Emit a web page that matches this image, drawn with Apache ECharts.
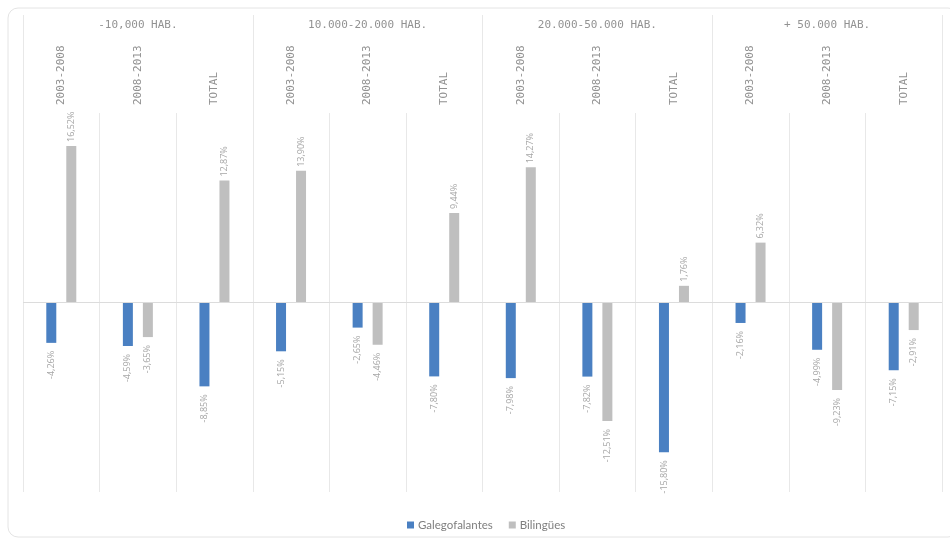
<!DOCTYPE html>
<html lang="es">
<head>
    <meta charset="UTF-8">
    <title>Galegofalantes e bilingües</title>
    <script src="https://cdn.jsdelivr.net/npm/echarts@6/dist/echarts.min.js"></script>
    <style>
        html, body { margin: 0; padding: 0; background: #fff; }
        #chart { width: 950px; height: 540px; }
    </style>
</head>
<body>
<div id="chart"></div>
<script type="text/javascript">
    // grupos de poboación e periodos
    var grupos = ['-10,000 HAB.', '10.000-20.000 HAB.', '20.000-50.000 HAB.', '+ 50.000 HAB.'];
    var periodos = ['2003-2008', '2008-2013', 'TOTAL',
                    '2003-2008', '2008-2013', 'TOTAL',
                    '2003-2008', '2008-2013', 'TOTAL',
                    '2003-2008', '2008-2013', 'TOTAL'];

    // variación (%)
    var galegofalantes = [-4.26, -4.59, -8.85, -5.15, -2.65, -7.80, -7.98, -7.82, -15.80, -2.16, -4.99, -7.15];
    var bilingues = [16.52, -3.65, 12.87, 13.90, -4.46, 9.44, 14.27, -12.51, 1.76, 6.32, -9.23, -2.91];

    var lineaGris = '#e8e8e8';
    var fonteCab = '"DejaVu Sans Mono", monospace';

    // etiqueta arriba se o valor é positivo, abaixo se é negativo
    function conEtiquetas(valores) {
        return valores.map(function (v) {
            return {
                value: v,
                label: {
                    position: v >= 0 ? 'top' : 'bottom',
                    align: v >= 0 ? 'left' : 'right',
                    distance: v >= 0 ? 4 : 8
                }
            };
        });
    }

    var etiquetaValor = {
        show: true,
        rotate: 90,
        verticalAlign: 'middle',
        fontFamily: '"Open Sans", sans-serif',
        fontSize: 9,
        color: '#a6a6a6',
        formatter: function (p) {
            return p.value.toFixed(2).replace('.', ',') + '%';
        }
    };

    var myChart = echarts.init(document.getElementById('chart'));

    myChart.setOption({
        backgroundColor: '#fff',
        animation: false,
        graphic: [{
            type: 'rect',
            shape: { x: 8, y: 8, width: 950, height: 529, r: 10 },
            style: { fill: 'none', stroke: '#e4e4e4', lineWidth: 1 },
            silent: true,
            z: -1
        }],
        legend: {
            left: 402,
            top: 514,
            itemWidth: 7,
            itemHeight: 7,
            itemGap: 16,
            icon: 'rect',
            textStyle: { fontFamily: 'Lato, sans-serif', fontSize: 11.5, color: '#7f7f7f', padding: [0, 0, 0, -1] },
            data: ['Galegofalantes', 'Bilingües']
        },
        grid: { left: 23, right: 8, top: 113, bottom: 48 },
        xAxis: [
            {
                type: 'category',
                position: 'top',
                data: periodos,
                axisLine: { show: false },
                axisTick: { show: false },
                axisLabel: {
                    rotate: 90,
                    margin: 8,
                    interval: 0,
                    fontFamily: fonteCab,
                    fontSize: 11,
                    color: '#929292'
                },
                splitLine: { show: true, interval: 0, lineStyle: { color: lineaGris, width: 1 } }
            },
            {
                type: 'category',
                position: 'top',
                data: grupos,
                axisLine: { show: false },
                axisTick: { show: true, inside: false, length: 98, interval: 0, lineStyle: { color: lineaGris, width: 1 } },
                axisLabel: {
                    margin: 82,
                    interval: 0,
                    fontFamily: fonteCab,
                    fontSize: 11,
                    color: '#929292'
                },
                splitLine: { show: false }
            }
        ],
        yAxis: {
            type: 'value',
            min: -20,
            max: 20,
            interval: 20,
            axisLine: { show: false },
            axisTick: { show: false },
            axisLabel: { show: false },
            splitLine: { show: false }
        },
        series: [
            {
                name: 'Galegofalantes',
                type: 'bar',
                xAxisIndex: 0,
                barWidth: 10,
                barGap: '100%',
                itemStyle: { color: '#4a80c2' },
                label: etiquetaValor,
                data: conEtiquetas(galegofalantes),
                markLine: {
                    silent: true,
                    symbol: 'none',
                    label: { show: false },
                    lineStyle: { color: '#dcdcdc', type: 'solid', width: 1 },
                    data: [{ yAxis: 0 }]
                }
            },
            {
                name: 'Bilingües',
                type: 'bar',
                xAxisIndex: 0,
                barWidth: 10,
                itemStyle: { color: '#bfbfbf' },
                label: etiquetaValor,
                data: conEtiquetas(bilingues)
            }
        ]
    });
</script>
</body>
</html>
